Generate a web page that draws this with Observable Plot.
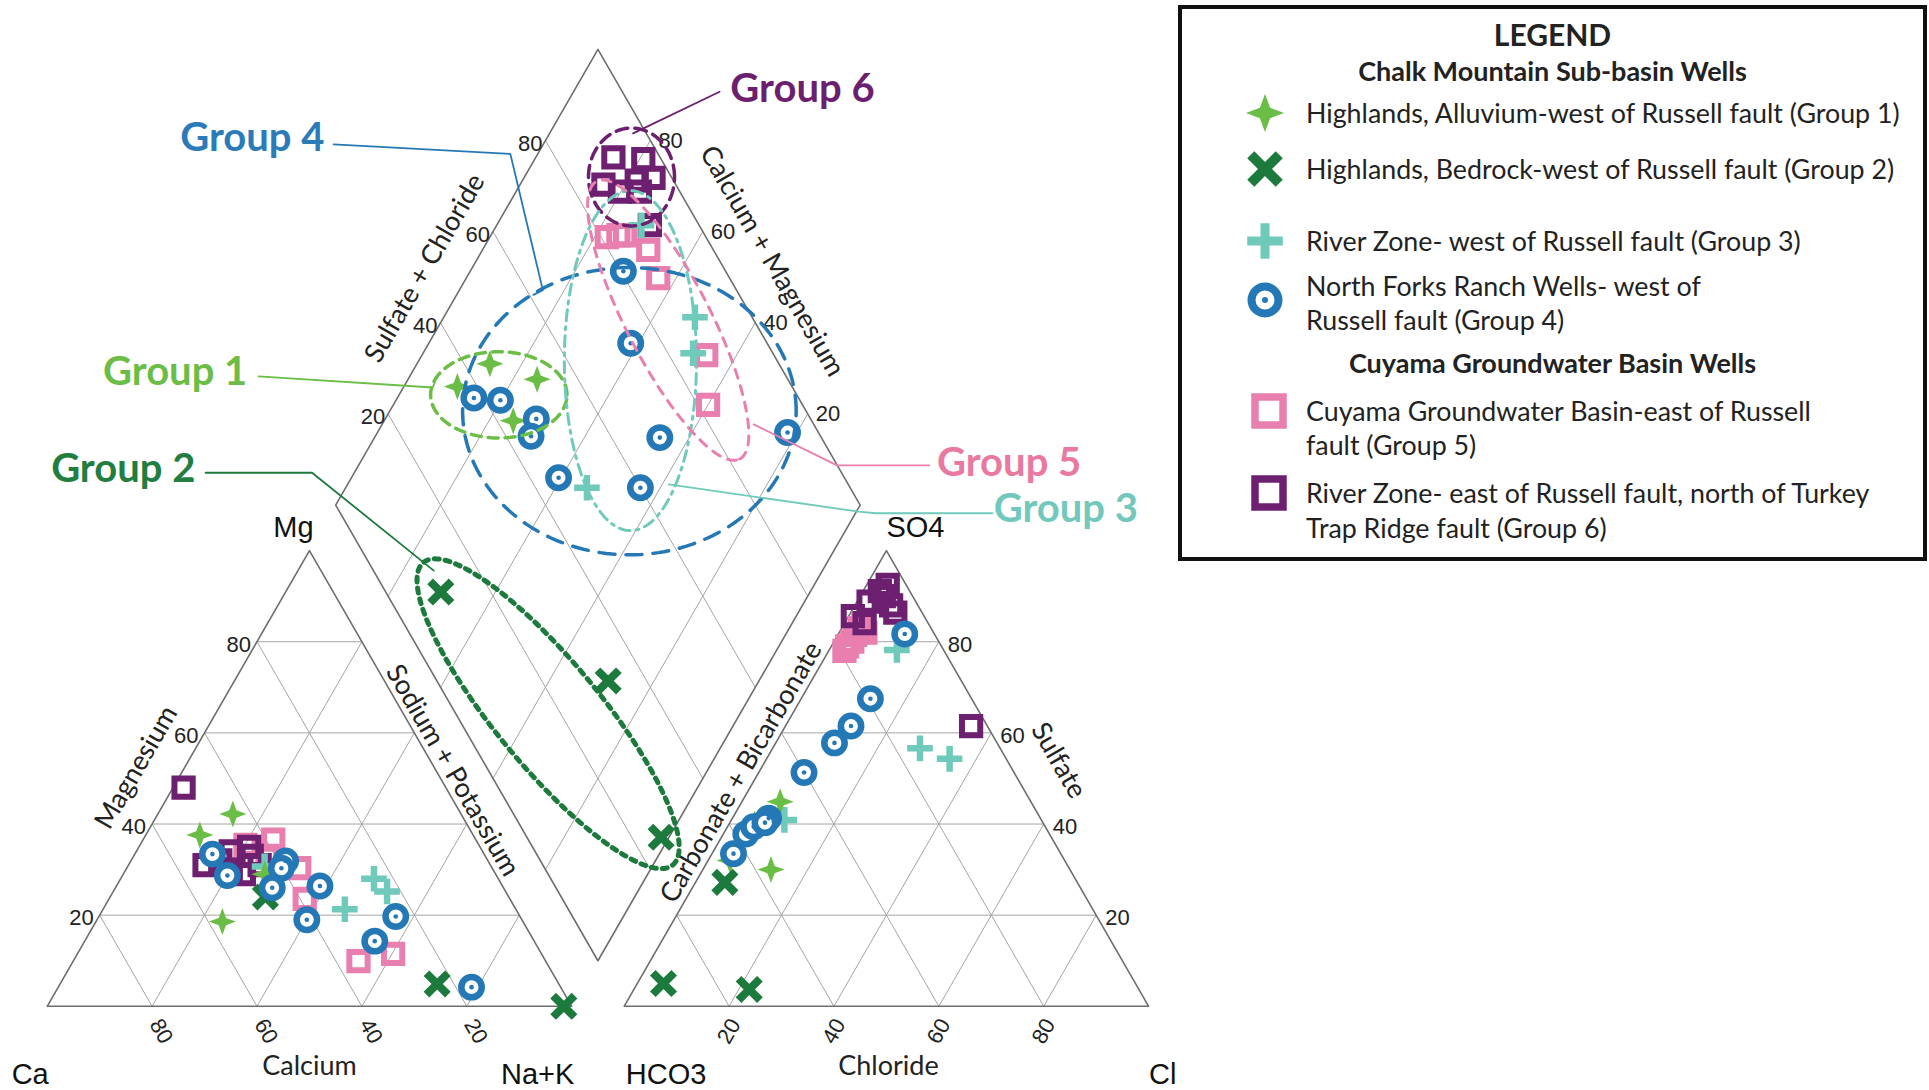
<!DOCTYPE html>
<html>
<head>
<meta charset="utf-8">
<script src="https://cdn.jsdelivr.net/npm/d3@7"></script>
<script src="https://cdn.jsdelivr.net/npm/@observablehq/plot@0.6"></script>
<style>
html,body{margin:0;padding:0;background:#fff;}
#page{position:relative;width:1929px;height:1090px;overflow:hidden;background:#fff;}
#chart{position:absolute;left:0;top:0;}
#legend{position:absolute;left:1178px;top:5px;width:749px;height:556px;border:4px solid #111;box-sizing:border-box;font-family:Lato,"Open Sans",sans-serif;color:#222;background:#fff;}
.lg{position:absolute;white-space:nowrap;line-height:34px;height:34px;}
.lg.h{font-weight:700;left:0;right:0;text-align:center;}
.lgsym{position:absolute;}
</style>
</head>
<body>
<div id="page"><div id="chart"></div><div id="legend"></div></div>
<script>
// ---------------- DATA (percent values) ----------------
// Cation triangle: [Mg %, Na+K %]   (Ca % = 100 - Mg - Na+K)
const cationG1 = [[42.2,14.3],[37.6,10.3],[18.6,24.1],[29,27]];
const cationG2 = [[24,29.6],[4.9,71.9],[0,98.5]];
const cationG3 = [[30.7,26.1],[28,48.3],[25.2,52.2],[21.3,46.1]];
const cationG4 = [[31.9,29.5],[26.4,38.8],[33.4,14.8],[28.7,20],[30.3,29.5],[26,29.9],[14.3,55.3],[19,40],[19.7,56.6],[4.2,78.8]];
const cationG5 = [[35.4,20.1],[36.6,24.8],[33,25.5],[30.3,32.9],[23.6,37.3],[9.9,54.4],[11.5,60.2]];
const cationG6 = [[48,2],[31,14.5],[32,17],[30,20],[35,21],[33,22.5],[29,23],[31,25],[34,18]];
// Anion triangle: [SO4 %, Cl %]   (HCO3 % = 100 - SO4 - Cl)
const anionG1 = [[44.9,7.3],[30,13],[32,4.2],[40,4.9]];
const anionG2 = [[5,5],[27.2,5.6],[3.7,22]];
const anionG3 = [[78.2,12.9],[54.3,34.9],[56.6,28.1],[40.9,10.1]];
const anionG4 = [[67.5,13.2],[61.5,12.5],[33.5,4.1],[37.8,4.3],[41.3,6.9],[39.4,5],[57.8,11.2],[40.3,6.7],[51.3,8.65],[81.7,12.65]];
const anionG5 = [[78,3],[80,3.5],[81.5,3.3],[84,3.6],[83,3.4],[82,5],[79,3]];
const anionG6 = [[91.1,3.2],[88.8,2.2],[85.6,0.8],[88,6.9],[86.4,8.5],[84.1,3.8],[61.5,35.4],[90,4.5],[92.5,4]];
// Diamond: [SO4+Cl %, Ca+Mg %]
const diamondG1 = [[36.2,89.8],[44.9,86.1],[52.2,75.4],[43.1,75.4]];
const diamondG2 = [[10.5,70.4],[32.65,28.75],[25.6,1.5]];
const diamondG3 = [[89,72.4],[89.1,52.1],[84.8,48.5],[49.8,54]];
const diamondG4 = [[80.5,70.8],[74,61.5],[38.1,85.4],[42.9,80.1],[47.7,71.2],[44.8,70.3],[69.2,45.6],[45.5,60.5],[60,43.8],[94.1,21.8]];
const diamondG5 = [[81.1,77.7],[83.5,75.7],[84.8,74.4],[87.6,68.4],[86.4,63.4],[87.1,45.8],[82,40]];
const diamondG6 = [[91.1,85.2],[96.6,79.3],[86.2,84.1],[93,78.2],[96.5,75.3],[88.6,80.2],[92.4,76.4],[90.6,70.8]];

const TICKS = [20, 40, 60, 80];
const groupNames = ["Group 1","Group 2","Group 3","Group 4","Group 5","Group 6"];
const legendHeaders = ["LEGEND","Chalk Mountain Sub-basin Wells","Cuyama Groundwater Basin Wells"];
const legendLabels = [
  ["Highlands, Alluvium-west of Russell fault (Group 1)"],
  ["Highlands, Bedrock-west of Russell fault (Group 2)"],
  ["River Zone- west of Russell fault (Group 3)"],
  ["North Forks Ranch Wells- west of","Russell fault (Group 4)"],
  ["Cuyama Groundwater Basin-east of Russell","fault (Group 5)"],
  ["River Zone- east of Russell fault, north of Turkey","Trap Ridge fault (Group 6)"]
];

// ---------------- geometry (ternary -> diagram units) ----------------
const H = Math.sqrt(3) / 2, GAP = 10;
const cat = (mg, na) => ({x: na + mg / 2, y: mg * H});
const an = (so4, cl) => ({x: 100 + GAP + cl + so4 / 2, y: so4 * H});
const dia = (a, cm) => ({x: 100 + GAP / 2 + (a - cm) / 2, y: H * (GAP + a + cm)});

const CAT = [cationG1,cationG2,cationG3,cationG4,cationG5,cationG6];
const AN = [anionG1,anionG2,anionG3,anionG4,anionG5,anionG6];
const DIA = [diamondG1,diamondG2,diamondG3,diamondG4,diamondG5,diamondG6];
const rows = i => [
  ...CAT[i].map(([m, n]) => cat(m, n)),
  ...AN[i].map(([s, c]) => an(s, c)),
  ...DIA[i].map(([a, c]) => dia(a, c))
];

const COL = ["#6abd45","#1c7b3c","#6fcabb","#2478b6","#e87fae","#6d1f70"];
const TXT = ["#6cbd47","#217e40","#72c8bc","#2b7bb9","#e9799f","#6b1f6e"];

// grid
const gridSegs = [];
for (const t of TICKS) {
  gridSegs.push([cat(t,0), cat(t,100-t)], [cat(0,t), cat(100-t,t)], [cat(0,100-t), cat(100-t,0)]);
  gridSegs.push([an(t,0), an(t,100-t)], [an(0,t), an(100-t,t)], [an(0,100-t), an(100-t,0)]);
  gridSegs.push([dia(t,0), dia(t,100)], [dia(0,t), dia(100,t)]);
}
const outlines = [
  [cat(0,0), cat(0,100), cat(100,0), cat(0,0)],
  [an(0,0), an(0,100), an(100,0), an(0,0)],
  [dia(0,0), dia(100,0), dia(100,100), dia(0,100), dia(0,0)]
].flatMap((pts, k) => pts.map(p => ({...p, k})));

// 4-point star symbol
const star4 = {draw(ctx, size) {
  const R = Math.sqrt(size / Math.PI), i = R * 0.27;
  ctx.moveTo(0,-R); ctx.lineTo(i,-i); ctx.lineTo(R,0); ctx.lineTo(i,i);
  ctx.lineTo(0,R); ctx.lineTo(-i,i); ctx.lineTo(-R,0); ctx.lineTo(-i,-i); ctx.closePath();
}};

// annotations (diagram units)
const leaders = [
  {g:3, pts:[[54.6,163.8],[88.3,162.0],[94.5,136.1],[92.7,135.2]]},
  {g:5, pts:[[128.2,173.8],[111.7,165.9]]},
  {g:0, pts:[[40.3,119.7],[73.5,117.6],[73.9,118.5]]},
  {g:1, pts:[[30.2,101.4],[50.5,101.4],[73.7,82.8]]},
  {g:4, pts:[[134.7,110.6],[150.6,102.8],[168.2,102.8]]},
  {g:2, pts:[[118.5,99.2],[154.7,94.0],[158.0,93.7],[180.2,93.7]]}
];
const labelPos = [[24.4,120.5],[14.5,102.1],[194.2,94.4],[39.1,165.0],[183.4,103.2],[144.0,174.3]];
const envelopes = [
  {g:5, cu:111.4, cv:157.6, a:8.2, b:9.3, rot:0, dash:"12,7", w:3.5},
  {g:3, cu:111.0, cv:113.1, a:31.8, b:27.3, rot:0, dash:"16,11", w:3.5},
  {g:0, cu:86.1, cv:116.2, a:13, b:8.2, rot:0, dash:"10,7", w:3.5},
  {g:2, cu:111.2, cv:122.7, a:12.6, b:32.3, rot:0, dash:"11,6,3,6", w:3},
  {g:4, cu:118.4, cv:130.4, a:29.7, b:8, rot:-62.7, dash:"9,8", w:3},
  {g:1, cu:95.5, cv:55.6, a:37.3, b:10, rot:-50.4, dash:"5,6", w:5}
];
const envPts = envelopes.flatMap((e, k) => d3.range(0, 361, 2).map(deg => {
  const t = deg * Math.PI / 180, r = e.rot * Math.PI / 180;
  const ca = e.a * Math.cos(t), sb = e.b * Math.sin(t);
  return {x: e.cu + ca * Math.cos(r) - sb * Math.sin(r), y: e.cv + ca * Math.sin(r) + sb * Math.cos(r), k};
}));

const NUM = "Liberation Sans, Arial, sans-serif";
const SANS = "Lato, Open Sans, sans-serif";

const marks = [
  Plot.link(gridSegs, {x1: d => d[0].x, y1: d => d[0].y, x2: d => d[1].x, y2: d => d[1].y, stroke: "#a4a4a4", strokeWidth: 1}),
  Plot.line(outlines, {x: "x", y: "y", z: "k", stroke: "#6e6e6e", strokeWidth: 1.6}),
  // tick labels
  Plot.text(TICKS, {x: t => cat(t,0).x, y: t => cat(t,0).y, text: t => t, textAnchor: "end", dx: -6, dy: 3, fontSize: 22, fontFamily: NUM, fill: "#222"}),
  Plot.text(TICKS, {x: t => cat(0,100-t).x, y: t => cat(0,100-t).y, text: t => t, rotate: 60, dx: 9, dy: 25, fontSize: 22, fontFamily: NUM, fill: "#222"}),
  Plot.text(TICKS, {x: t => an(0,t).x, y: t => an(0,t).y, text: t => t, rotate: -60, dx: 0, dy: 25, fontSize: 22, fontFamily: NUM, fill: "#222"}),
  Plot.text(TICKS, {x: t => an(t,100-t).x, y: t => an(t,100-t).y, text: t => t, textAnchor: "start", dx: 9, dy: 3, fontSize: 22, fontFamily: NUM, fill: "#222"}),
  Plot.text(TICKS, {x: t => dia(t,100).x, y: t => dia(t,100).y, text: t => t, textAnchor: "end", dx: -3, dy: 3, fontSize: 22, fontFamily: NUM, fill: "#222"}),
  Plot.text(TICKS, {x: t => dia(100,t).x, y: t => dia(100,t).y, text: t => t, textAnchor: "start", dx: 8, dy: 0, fontSize: 22, fontFamily: NUM, fill: "#222"}),
  // vertex labels
  Plot.text([cat(0,0)], {x: "x", y: "y", text: () => "Ca", dx: -17, dy: 68, fontSize: 29, fontFamily: NUM, fill: "#111"}),
  Plot.text([cat(0,100)], {x: "x", y: "y", text: () => "Na+K", dx: -34, dy: 68, fontSize: 29, fontFamily: NUM, fill: "#111"}),
  Plot.text([cat(100,0)], {x: "x", y: "y", text: () => "Mg", dx: -16, dy: -23, fontSize: 29, fontFamily: NUM, fill: "#111"}),
  Plot.text([an(0,0)], {x: "x", y: "y", text: () => "HCO3", dx: 42, dy: 68, fontSize: 29, fontFamily: NUM, fill: "#111"}),
  Plot.text([an(0,100)], {x: "x", y: "y", text: () => "Cl", dx: 14, dy: 68, fontSize: 29, fontFamily: NUM, fill: "#111"}),
  Plot.text([an(100,0)], {x: "x", y: "y", text: () => "SO4", dx: 29, dy: -23, fontSize: 29, fontFamily: NUM, fill: "#111"}),
  // axis titles
  Plot.text([cat(0,50)], {x: "x", y: "y", text: () => "Calcium", dy: 60, fontSize: 27, fontFamily: SANS, fill: "#222"}),
  Plot.text([an(0,50)], {x: "x", y: "y", text: () => "Chloride", dx: 2, dy: 60, fontSize: 27, fontFamily: SANS, fill: "#222"}),
  Plot.text([cat(50,0)], {x: "x", y: "y", text: () => "Magnesium", rotate: -60, dx: -42, dy: -11, fontSize: 27, fontFamily: SANS, fill: "#222"}),
  Plot.text([cat(50,50)], {x: "x", y: "y", text: () => "Sodium + Potassium", rotate: 60, dx: 12, dy: -8, fontSize: 27, fontFamily: SANS, fill: "#222"}),
  Plot.text([an(50,0)], {x: "x", y: "y", text: () => "Carbonate + Bicarbonate", rotate: -60, dx: -14, dy: -6, fontSize: 27, fontFamily: SANS, fill: "#222"}),
  Plot.text([an(50,50)], {x: "x", y: "y", text: () => "Sulfate", rotate: 60, dx: 41, dy: -18, fontSize: 27, fontFamily: SANS, fill: "#222"}),
  Plot.text([dia(50,100)], {x: "x", y: "y", text: () => "Sulfate + Chloride", rotate: -60, dx: -42, dy: -9, fontSize: 27, fontFamily: SANS, fill: "#222"}),
  Plot.text([dia(100,50)], {x: "x", y: "y", text: () => "Calcium + Magnesium", rotate: 60, dx: 43, dy: -16, fontSize: 27, fontFamily: SANS, fill: "#222"}),
  // data points
  Plot.dot(rows(4), {x: "x", y: "y", symbol: "square", r: 10.3, stroke: COL[4], strokeWidth: 6, fill: "none"}),
  Plot.dot(rows(5), {x: "x", y: "y", symbol: "square", r: 10.3, stroke: COL[5], strokeWidth: 6, fill: "none"}),
  Plot.dot(rows(2), {x: "x", y: "y", symbol: "plus", r: 8.3, stroke: COL[2], strokeWidth: 6.5, fill: "none"}),
  Plot.dot(rows(0), {x: "x", y: "y", symbol: star4, r: 13.5, fill: COL[0], stroke: "none"}),
  Plot.dot(rows(1), {x: "x", y: "y", symbol: "times", r: 9.8, stroke: COL[1], strokeWidth: 8, fill: "none"}),
  Plot.dot(rows(3), {x: "x", y: "y", r: 10.2, stroke: COL[3], strokeWidth: 6.5, fill: "white"}),
  Plot.dot(rows(3), {x: "x", y: "y", r: 2.3, fill: COL[3], stroke: "none"}),
  // envelopes
  ...envelopes.map((e, k) => Plot.line(envPts.filter(p => p.k === k), {x: "x", y: "y", stroke: COL[e.g], strokeWidth: e.w, strokeDasharray: e.dash, curve: "linear"})),
  // leaders and labels
  ...leaders.map(l => Plot.line(l.pts, {x: d => d[0], y: d => d[1], stroke: COL[l.g], strokeWidth: 1.8})),
  Plot.text(groupNames, {x: (d, i) => labelPos[i][0], y: (d, i) => labelPos[i][1], text: d => d, fill: (d, i) => TXT[i], fontSize: 40, fontWeight: 700, fontFamily: SANS})
];

const chart = Plot.plot({
  width: 1929, height: 1090, margin: 0,
  x: {domain: [0, 210], range: [46.7, 46.7 + 210 * 5.245], axis: null},
  y: {domain: [0, 182], range: [1005.8, 1005.8 - 182 * 5.262], axis: null},
  style: {background: "white", overflow: "visible"},
  marks
});
document.getElementById("chart").appendChild(chart);

// ---------------- legend ----------------
const lg = document.getElementById("legend");
const OX = 1182, OY = 9;
function addText(txt, cls, left, cy, size, weight) {
  const d = document.createElement("div");
  d.className = "lg" + (cls ? " " + cls : "");
  d.textContent = txt;
  d.style.top = (cy - OY - 17) + "px";
  if (left != null) d.style.left = (left - OX) + "px";
  d.style.fontSize = size + "px";
  if (weight) d.style.fontWeight = weight;
  lg.appendChild(d);
}
addText(legendHeaders[0], "h", null, 34, 30, 700);
addText(legendHeaders[1], "h", null, 71, 27, 700);
addText(legendHeaders[2], "h", null, 363, 27, 700);
const lineY = [[113],[168.5],[241],[285.5,320],[411,445],[493,528]];
legendLabels.forEach((lines, i) => lines.forEach((t, j) => addText(t, "", 1306, lineY[i][j], 26.8)));
const symY = [113, 168.5, 241, 300, 411, 493];
const symX = [1265, 1265, 1265, 1265, 1269, 1269];
const svgNS = "http://www.w3.org/2000/svg";
symY.forEach((cy, i) => {
  const s = document.createElementNS(svgNS, "svg");
  s.setAttribute("width", 56); s.setAttribute("height", 56);
  s.setAttribute("class", "lgsym");
  s.style.left = (symX[i] - OX - 28) + "px"; s.style.top = (cy - OY - 28) + "px";
  const g = d3.select(s).append("g").attr("transform", "translate(28,28)");
  if (i === 0) g.append("path").attr("d", d3.symbol(star4, Math.PI * 19 * 19)()).attr("fill", COL[0]);
  if (i === 1) g.append("path").attr("d", d3.symbol(d3.symbolTimes, Math.PI * 13 * 13)()).attr("stroke", COL[1]).attr("stroke-width", 10).attr("fill", "none");
  if (i === 2) g.append("path").attr("d", d3.symbol(d3.symbolPlus, Math.PI * 11.5 * 11.5)()).attr("stroke", COL[2]).attr("stroke-width", 9).attr("fill", "none");
  if (i === 3) { g.append("circle").attr("r", 13.5).attr("stroke", COL[3]).attr("stroke-width", 8).attr("fill", "white"); g.append("circle").attr("r", 3).attr("fill", COL[3]); }
  if (i >= 4) g.append("rect").attr("x", -14).attr("y", -14).attr("width", 28).attr("height", 28).attr("stroke", COL[i]).attr("stroke-width", 7.5).attr("fill", "white");
  lg.appendChild(s);
});
</script>
</body>
</html>
